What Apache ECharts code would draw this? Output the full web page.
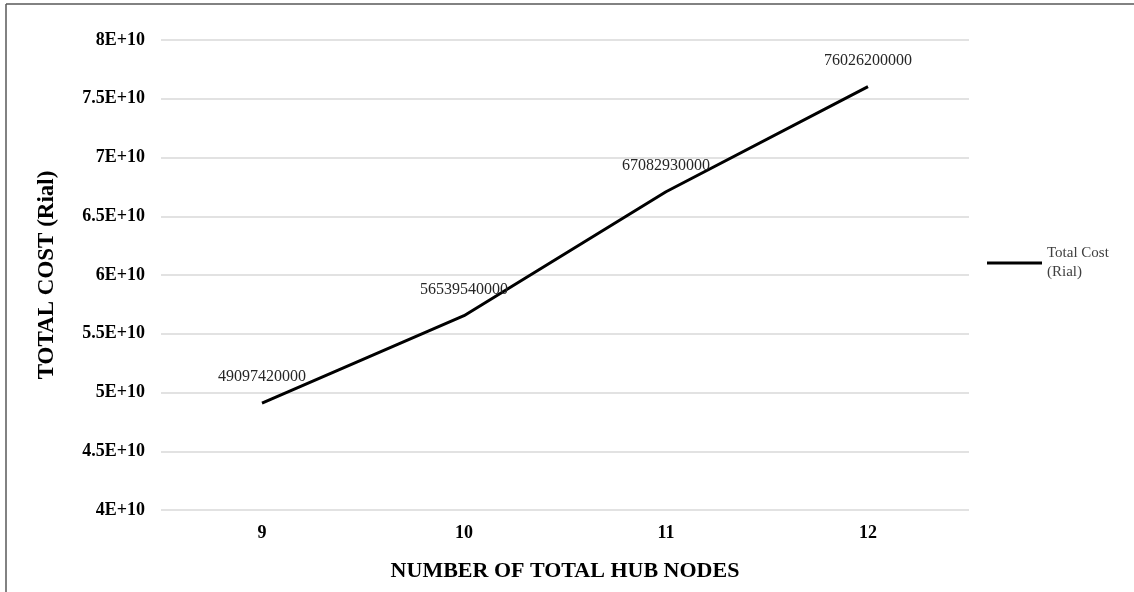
<!DOCTYPE html>
<html>
<head>
<meta charset="utf-8">
<script src="https://cdn.jsdelivr.net/npm/echarts@6/dist/echarts.min.js"></script>
<style>
  html, body { margin: 0; padding: 0; background: #ffffff; }
  #chart { width: 1134px; height: 592px; }
</style>
</head>
<body>
<div id="chart"></div>
<script>
// Hub count on the x axis, total cost in Rial on the y axis
const hubNodes = ['9', '10', '11', '12'];
const totalCost = [49097420000, 56539540000, 67082930000, 76026200000];
const seriesName = 'Total Cost (Rial)';
const xTitle = 'NUMBER OF TOTAL HUB NODES';
const yTitle = 'TOTAL COST (Rial)';

const serif = "'Liberation Serif', 'Times New Roman', serif";

// Scientific notation in the style "7.5E+10"
function sci(v) {
  const m = Math.round(v / 1e9) / 10;
  return m + 'E+10';
}

const chart = echarts.init(document.getElementById('chart'), null, { renderer: 'canvas' });

chart.setOption({
  backgroundColor: '#ffffff',
  animation: false,
  grid: { left: 161, right: 165, top: 40, bottom: 82 },
  legend: {
    data: [{ name: seriesName, icon: 'rect' }],
    orient: 'vertical',
    left: 987,
    top: 244,
    padding: 0,
    itemWidth: 55,
    itemHeight: 3,
    itemGap: 0,
    formatter: function (name) { return name.replace(' (', '\n('); },
    itemStyle: { color: '#000000' },
    textStyle: { fontFamily: serif, fontSize: 15, color: '#404040', lineHeight: 19, padding: [0, 0, 0, 0] }
  },
  xAxis: {
    type: 'category',
    data: hubNodes,
    boundaryGap: true,
    name: xTitle,
    nameLocation: 'middle',
    nameGap: 50,
    nameTextStyle: { fontFamily: serif, fontSize: 22, fontWeight: 'bold', color: '#000000' },
    axisLine: { show: false },
    axisTick: { show: false },
    axisLabel: { fontFamily: serif, fontSize: 18, fontWeight: 'bold', color: '#000000', margin: 14 }
  },
  yAxis: {
    type: 'value',
    min: 40000000000,
    max: 80000000000,
    interval: 5000000000,
    name: yTitle,
    nameLocation: 'middle',
    nameGap: 102,
    nameRotate: 90,
    nameTextStyle: { fontFamily: serif, fontSize: 23, fontWeight: 'bold', color: '#000000' },
    axisLine: { show: false },
    axisTick: { show: false },
    axisLabel: {
      fontFamily: serif, fontSize: 18, fontWeight: 'bold', color: '#000000', margin: 16,
      formatter: sci
    },
    splitLine: { lineStyle: { color: '#d9d9d9', width: 1.5 } }
  },
  series: [{
    name: seriesName,
    type: 'line',
    data: totalCost,
    symbol: 'circle',
    symbolSize: 0,
    showSymbol: true,
    smooth: false,
    lineStyle: { color: '#000000', width: 3 },
    itemStyle: { color: '#000000' },
    label: {
      show: true,
      position: 'top',
      distance: 18,
      fontFamily: serif,
      fontSize: 16,
      color: '#262626',
      formatter: function (p) { return String(p.value); }
    }
  }],
  graphic: [
    { type: 'line', shape: { x1: 6, y1: 4, x2: 1134, y2: 4 }, style: { stroke: '#595959', lineWidth: 1.5 } },
    { type: 'line', shape: { x1: 6, y1: 4, x2: 6, y2: 592 }, style: { stroke: '#595959', lineWidth: 1.5 } }
  ]
});
</script>
</body>
</html>
